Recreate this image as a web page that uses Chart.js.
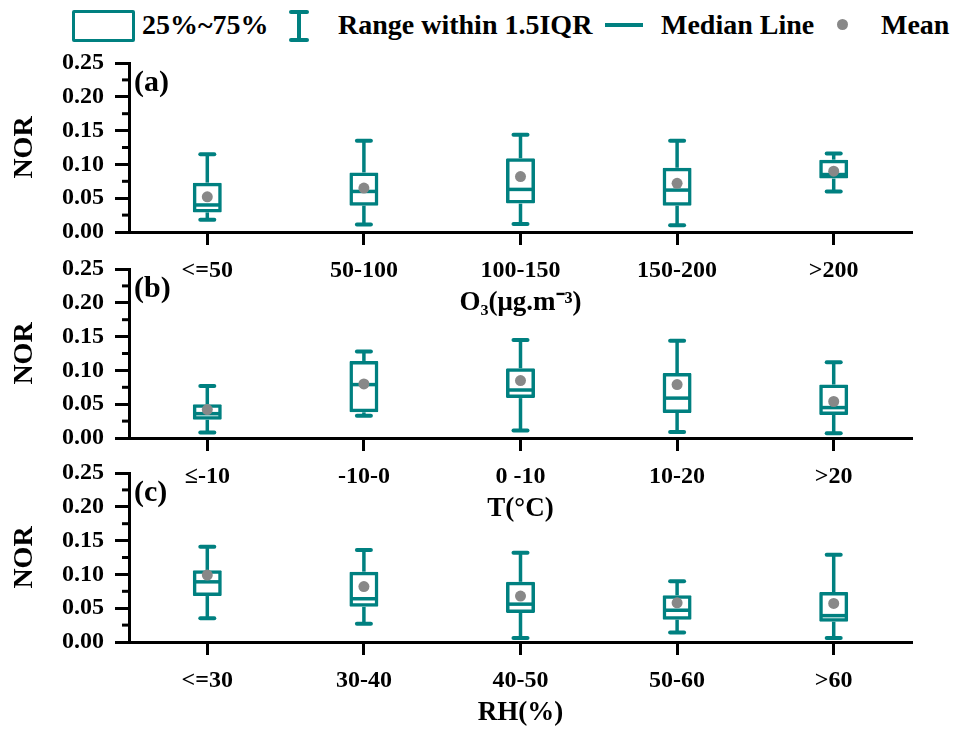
<!DOCTYPE html>
<html>
<head>
<meta charset="utf-8">
<script src="https://cdn.jsdelivr.net/npm/chart.js@4.4.1/dist/chart.umd.min.js"></script>
<style>
  html, body { margin: 0; padding: 0; background: #fff; }
  #wrap { position: relative; width: 954px; height: 731px; overflow: hidden; background: #fff; }
  #wrap canvas { position: absolute; left: 0; }
  .lg { position: absolute; font: bold 28px "Liberation Serif", "Times New Roman", serif; line-height: 28px; color: #000; white-space: nowrap; top: 11px; }
  .sh { position: absolute; background: #008080; }
</style>
</head>
<body>
<div id="wrap">
  <!-- legend -->
  <div class="sh" style="left:72px;top:10px;width:63px;height:32px;background:transparent;border:3.5px solid #008080;border-radius:2px;box-sizing:border-box;"></div>
  <div class="lg" style="left:142px">25%~75%</div>
  <div class="sh" style="left:289px;top:10px;width:20px;height:4px;border-radius:2px;"></div>
  <div class="sh" style="left:297px;top:12px;width:4px;height:28px;"></div>
  <div class="sh" style="left:289px;top:38px;width:20px;height:4px;border-radius:2px;"></div>
  <div class="lg" style="left:338px">Range within 1.5IQR</div>
  <div class="sh" style="left:605px;top:23px;width:38px;height:4px;"></div>
  <div class="lg" style="left:661px">Median Line</div>
  <div class="sh" style="left:837px;top:19px;width:11px;height:11px;border-radius:50%;background:#888;"></div>
  <div class="lg" style="left:881px">Mean</div>

  <canvas id="chartA" width="954" height="275" style="top:45px"></canvas>
  <canvas id="chartB" width="954" height="275" style="top:251px"></canvas>
  <canvas id="chartC" width="954" height="275" style="top:455px"></canvas>
</div>
<script>
// (a) O3
const o3Labels = ['<=50', '50-100', '100-150', '150-200', '>200'];
const o3Min    = [0.018, 0.011, 0.012, 0.010, 0.060];
const o3Q1     = [0.029, 0.039, 0.042, 0.039, 0.079];
const o3Median = [0.040, 0.060, 0.063, 0.062, 0.085];
const o3Q3     = [0.073, 0.088, 0.109, 0.095, 0.107];
const o3Max    = [0.115, 0.135, 0.144, 0.135, 0.116];
const o3Mean   = [0.052, 0.065, 0.082, 0.072, 0.090];

// (b) temperature
const tLabels = ['≤-10', '-10-0', '0 -10', '10-20', '>20'];
const tMin    = [0.008, 0.033, 0.011, 0.009, 0.007];
const tQ1     = [0.027, 0.038, 0.059, 0.037, 0.034];
const tMedian = [0.036, 0.079, 0.071, 0.059, 0.045];
const tQ3     = [0.050, 0.114, 0.103, 0.096, 0.079];
const tMax    = [0.077, 0.128, 0.145, 0.144, 0.112];
const tMean   = [0.042, 0.080, 0.085, 0.079, 0.054];

// (c) relative humidity
const rhLabels = ['<=30', '30-40', '40-50', '50-60', '>60'];
const rhMin    = [0.035, 0.027, 0.006, 0.014, 0.006];
const rhQ1     = [0.068, 0.052, 0.043, 0.033, 0.030];
const rhMedian = [0.089, 0.064, 0.056, 0.047, 0.039];
const rhQ3     = [0.106, 0.104, 0.089, 0.069, 0.074];
const rhMax    = [0.141, 0.136, 0.132, 0.090, 0.129];
const rhMean   = [0.099, 0.082, 0.068, 0.058, 0.057];

const yTicks = [0, 0.05, 0.10, 0.15, 0.20, 0.25];

const TEAL = '#008080';
const FONT = '"Liberation Serif", "Times New Roman", serif';
Chart.defaults.font.family = FONT;
Chart.defaults.font.weight = 'bold';
Chart.defaults.color = '#000';

// whiskers, median line, minor ticks and the panel letter
const boxExtras = {
  id: 'boxExtras',
  afterDatasetDraw(chart, args) {
    if (args.index !== 0) return;
    const ds = chart.data.datasets[0];
    const x = chart.scales.x, y = chart.scales.y;
    const ctx = chart.ctx;
    ctx.save();
    ctx.strokeStyle = TEAL;
    const seg = (x1, y1, x2, y2) => { ctx.beginPath(); ctx.moveTo(x1, y1); ctx.lineTo(x2, y2); ctx.stroke(); };
    ds.medians.forEach((m, i) => {
      const bar = args.meta.data[i];
      const cx = x.getPixelForValue(i);
      const half = bar.width / 2;
      const yMax = y.getPixelForValue(ds.maxs[i]);
      const yMin = y.getPixelForValue(ds.mins[i]);
      const yQ1 = y.getPixelForValue(ds.data[i][0]);
      const yQ3 = y.getPixelForValue(ds.data[i][1]);
      ctx.lineWidth = 3.5;
      ctx.lineCap = 'butt';
      seg(cx, yQ3, cx, yMax);
      seg(cx, yQ1, cx, yMin);
      ctx.lineCap = 'round';
      ctx.lineWidth = 4;
      seg(cx - 7, yMax, cx + 7, yMax);
      seg(cx - 7, yMin, cx + 7, yMin);
      ctx.lineCap = 'butt';
      ctx.lineWidth = 3.5;
      const ym = y.getPixelForValue(m);
      seg(cx - half + 2, ym, cx + half - 2, ym);
    });
    ctx.restore();
  },
  afterDraw(chart) {
    const ctx = chart.ctx;
    const y = chart.scales.y;
    const left = chart.chartArea.left;
    ctx.save();
    ctx.strokeStyle = '#000';
    ctx.lineWidth = 3;
    for (let v = 0.025; v < 0.25; v += 0.05) {
      const py = y.getPixelForValue(v);
      ctx.beginPath(); ctx.moveTo(left - 7, py); ctx.lineTo(left, py); ctx.stroke();
    }
    ctx.fillStyle = '#000';
    ctx.font = 'bold 30px ' + FONT;
    ctx.textBaseline = 'middle';
    ctx.fillText(chart.options.plugins.boxExtras.tag, left + 5, chart.chartArea.top + 20);
    ctx.restore();
  }
};

function makePanel(id, tag, labels, mins, q1, med, q3, maxs, means, xTitle) {
  new Chart(document.getElementById(id), {
    type: 'bar',
    data: {
      labels: labels,
      datasets: [{
        data: q1.map((v, i) => [v, q3[i]]),
        mins: mins, maxs: maxs, medians: med,
        backgroundColor: 'rgba(255,255,255,0)',
        borderColor: TEAL,
        borderWidth: 3.5,
        borderSkipped: false,
        borderRadius: 1,
        barPercentage: 0.185,
        categoryPercentage: 1,
        order: 2
      }, {
        type: 'line',
        data: means,
        showLine: false,
        pointRadius: 5.5,
        pointBackgroundColor: '#888',
        pointBorderColor: '#888',
        pointBorderWidth: 0,
        order: 1
      }]
    },
    options: {
      responsive: false,
      animation: false,
      events: [],
      layout: { padding: { top: 18, right: 42, left: 0, bottom: 0 } },
      plugins: {
        legend: { display: false },
        tooltip: { enabled: false },
        boxExtras: { tag: tag }
      },
      scales: {
        x: {
          offset: true,
          grid: { offset: false, drawOnChartArea: false, tickLength: 13, tickWidth: 3, tickColor: '#000' },
          border: { color: '#000', width: 3 },
          ticks: { font: { size: 24, weight: 'bold' }, color: '#000', padding: 11, maxRotation: 0 },
          title: { display: true, text: xTitle, font: { size: 27, weight: 'bold' }, color: '#000', padding: { top: 0, bottom: 1 } },
          afterFit(scale) { scale.height = 88; }
        },
        y: {
          min: 0,
          max: 0.25,
          afterBuildTicks(scale) { scale.ticks = yTicks.map(v => ({ value: v })); },
          ticks: { font: { size: 24, weight: 'bold' }, color: '#000', padding: 11, callback: v => v.toFixed(2) },
          grid: { drawOnChartArea: false, tickLength: 14, tickWidth: 3, tickColor: '#000' },
          border: { color: '#000', width: 3 },
          title: { display: true, text: 'NOR', font: { size: 28, weight: 'bold' }, color: '#000', padding: { top: 8, bottom: 0 } },
          afterFit(scale) {
            scale.width = 129;
            scale.paddingTop = 0;
            scale.paddingBottom = 0;
          }
        }
      }
    },
    plugins: [boxExtras]
  });
}

makePanel('chartA', '(a)', o3Labels, o3Min, o3Q1, o3Median, o3Q3, o3Max, o3Mean, 'O₃(μg.m⁻³)');
makePanel('chartB', '(b)', tLabels, tMin, tQ1, tMedian, tQ3, tMax, tMean, 'T(°C)');
makePanel('chartC', '(c)', rhLabels, rhMin, rhQ1, rhMedian, rhQ3, rhMax, rhMean, 'RH(%)');
</script>
</body>
</html>
